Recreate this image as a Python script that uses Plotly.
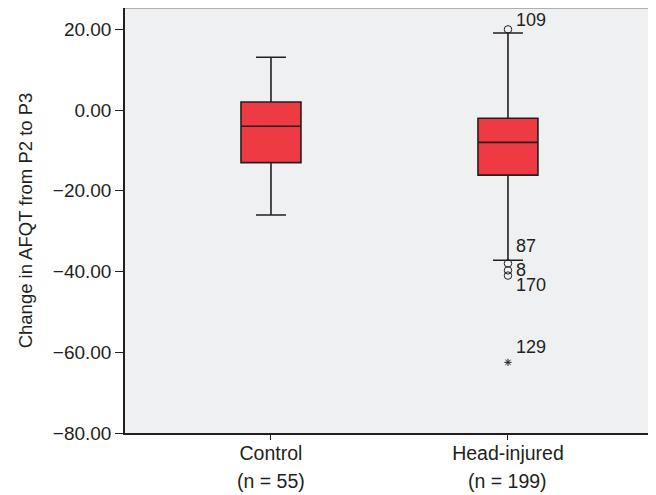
import plotly.graph_objects as go

groups = ["Control", "Head-injured"]
group_n = [55, 199]
q1 = [-13.0, -16.1]
median = [-4.0, -8.0]
q3 = [2.0, -2.0]
lower_whisker = [-26.0, -37.2]
upper_whisker = [13.1, 19.1]

# outliers (all in Head-injured group)
outlier_group = [1, 1, 1, 1]
outlier_ids = ["109", "87", "8", "170"]
outlier_vals = [20.0, -38.0, -39.7, -41.0]
extreme_group = [1]
extreme_ids = ["129"]
extreme_vals = [-62.5]

y_ticks = [20, 0, -20, -40, -60, -80]

INK = "#231f20"
FILL = "#ee3a43"
FONT = "Liberation Sans, Arial, sans-serif"

fig = go.Figure()
for i, g in enumerate(groups):
    fig.add_trace(go.Box(
        x=[i], q1=[q1[i]], median=[median[i]], q3=[q3[i]],
        lowerfence=[lower_whisker[i]], upperfence=[upper_whisker[i]],
        width=0.253, whiskerwidth=0.5,
        fillcolor=FILL, line=dict(color=INK, width=1.6),
        boxpoints=False, showlegend=False, name=g, hoverinfo="skip",
    ))

fig.add_trace(go.Scatter(
    x=outlier_group, y=outlier_vals, mode="markers",
    marker=dict(symbol="circle-open", size=7.5, color=INK, line=dict(width=1)),
    showlegend=False, hoverinfo="skip",
))
fig.add_trace(go.Scatter(
    x=extreme_group, y=extreme_vals, mode="markers",
    marker=dict(symbol="asterisk-open", size=6, color=INK, line=dict(width=1)),
    showlegend=False, hoverinfo="skip",
))

label_yshift = [9, 17, 0, -9]
for gx, lab, v, ys in zip(outlier_group, outlier_ids, outlier_vals, label_yshift):
    fig.add_annotation(x=gx, y=v, text=lab, showarrow=False, xanchor="left",
                       xshift=6, yshift=ys, font=dict(family=FONT, size=18, color=INK))
for gx, lab, v in zip(extreme_group, extreme_ids, extreme_vals):
    fig.add_annotation(x=gx, y=v, text=lab, showarrow=False, xanchor="left",
                       xshift=6, yshift=15, font=dict(family=FONT, size=18, color=INK))

# second line of category labels (sample sizes)
for i, n in enumerate(group_n):
    fig.add_annotation(x=i, xref="x", y=0, yref="paper", yanchor="middle",
                       text=f"(n = {n})", showarrow=False, yshift=-48,
                       font=dict(family=FONT, size=19.5, color=INK))

fig.add_shape(type="line", xref="paper", yref="paper", x0=0, x1=1, y0=1, y1=1,
              line=dict(color="#9a9a9a", width=1.5))

fig.update_layout(
    width=648, height=487,
    margin=dict(l=117, r=3, t=0, b=62),
    paper_bgcolor="white", plot_bgcolor="#eff0f2",
    font=dict(family=FONT, size=17, color=INK),
)
fig.update_xaxes(
    range=[-0.616, 1.612], tickvals=[0, 1], ticktext=groups,
    ticks="outside", ticklen=5, tickcolor=INK, showgrid=False, zeroline=False,
    showline=True, linecolor=INK, linewidth=1.5, ticklabelstandoff=-3,
    tickfont=dict(size=19.5), automargin=False,
)
fig.update_yaxes(
    range=[-80, 25.3], tickvals=y_ticks, tickformat=".2f",
    ticks="outside", ticklen=8, tickcolor=INK, showgrid=False, zeroline=False,
    showline=True, linecolor=INK, linewidth=1.5, mirror=True,
    title=dict(text="Change in AFQT from P2 to P3", font=dict(size=18.5), standoff=15),
    tickfont=dict(size=19), automargin=False,
)

fig.write_html("out.html")
